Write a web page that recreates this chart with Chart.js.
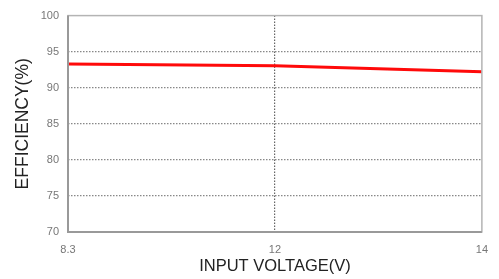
<!DOCTYPE html>
<html>
<head>
<meta charset="utf-8">
<script src="https://cdn.jsdelivr.net/npm/chart.js@4"></script>
<style>
  html, body { margin: 0; padding: 0; background: #fff; }
  canvas { display: block; }
</style>
</head>
<body>
<canvas id="chartLine" width="499" height="279"></canvas>
<script>
// input voltage ticks are evenly spaced on the original plot
const voltageLabels = ['8.3', '12', '14'];
const voltagePos = [0, 1, 2];
const efficiency = [93.28, 93.06, 92.22];
const yTicks = [70, 75, 80, 85, 90, 95, 100];

// draws the gray box around the plot area
const frame = {
  id: 'frame',
  afterDraw(chart) {
    const { ctx, chartArea: a } = chart;
    ctx.save();
    ctx.strokeStyle = '#b4b4b4';
    ctx.lineWidth = 1.5;
    ctx.strokeRect(a.left, a.top, a.right - a.left, a.bottom - a.top);
    ctx.strokeStyle = '#999';
    ctx.lineWidth = 2;
    ctx.beginPath();
    ctx.moveTo(a.left, a.top);
    ctx.lineTo(a.left, a.bottom);
    ctx.lineTo(a.right, a.bottom);
    ctx.stroke();
    ctx.restore();
  }
};

const dataLine = {
  datasets: [
    {
      label: 'Efficiency',
      data: voltagePos.map((x, i) => ({ x: x, y: efficiency[i] })),
      borderColor: '#ff0a0a',
      backgroundColor: '#ff0a0a',
      borderWidth: 3,
      pointRadius: 0,
      tension: 0
    }
  ]
};

const configLine = {
  type: 'line',
  data: dataLine,
  options: {
    responsive: false,
    animation: false,
    layout: { padding: { left: 0, right: 16, top: 13, bottom: 0 } },
    plugins: { legend: { display: false }, tooltip: { enabled: false } },
    scales: {
      x: {
        type: 'linear',
        min: 0,
        max: 2,
        afterFit: (s) => { s.height = 47; },
        afterBuildTicks: (s) => { s.ticks = voltagePos.map(v => ({ value: v })); },
        ticks: {
          padding: 11,
          color: '#777',
          font: { family: 'Liberation Sans, Arial', size: 11 },
          maxRotation: 0,
          callback: (v) => voltageLabels[v]
        },
        grid: {
          drawTicks: false,
          lineWidth: 1.2,
          color: (c) => c.tick && c.tick.value === 1 ? '#666' : 'rgba(0,0,0,0)'
        },
        border: { display: false, dash: [1.5, 1.5] },
        title: {
          display: true,
          text: 'INPUT VOLTAGE(V)',
          color: '#222',
          font: { family: 'Liberation Sans, Arial', size: 16.5 },
          padding: { top: 0, bottom: 3 }
        }
      },
      y: {
        min: 70,
        max: 100,
        afterFit: (s) => { s.width = 68; },
        afterBuildTicks: (s) => { s.ticks = yTicks.map(v => ({ value: v })); },
        ticks: {
          padding: 9,
          color: '#777',
          font: { family: 'Liberation Sans, Arial', size: 11 }
        },
        grid: {
          drawTicks: false,
          lineWidth: 1.2,
          color: (c) => c.tick && (c.tick.value === 70 || c.tick.value === 100) ? 'rgba(0,0,0,0)' : '#888'
        },
        border: { display: false, dash: [1.5, 1.5] },
        title: {
          display: true,
          text: 'EFFICIENCY(%)',
          color: '#222',
          font: { family: 'Liberation Sans, Arial', size: 17.5 },
          padding: { top: 13, bottom: 0 }
        }
      }
    }
  },
  plugins: [frame]
};

const chartLine = new Chart(document.getElementById('chartLine'), configLine);
</script>
</body>
</html>
